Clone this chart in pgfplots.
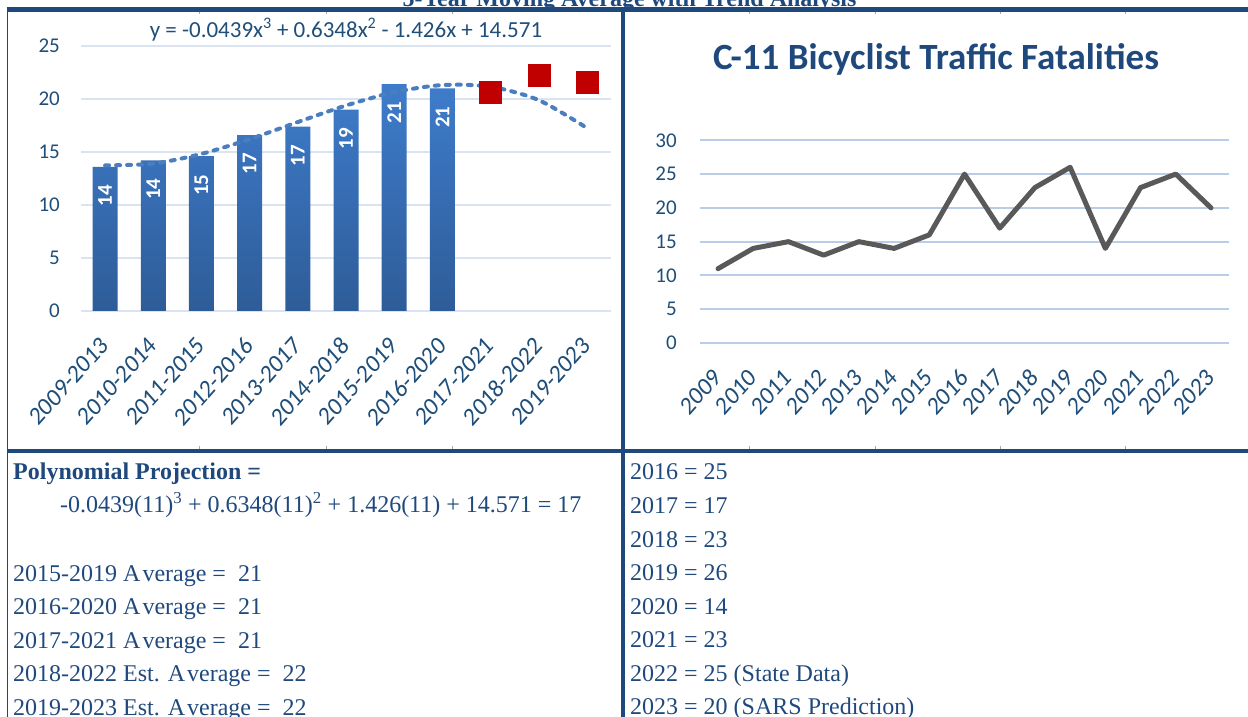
\documentclass[border=0pt]{standalone}
\usepackage{fontspec}
\setmainfont{Liberation Serif}
\newfontfamily\calibri{Carlito}
\usepackage{pgfplots}
\pgfplotsset{compat=1.18}
\definecolor{navy}{HTML}{1F497D}
\definecolor{tickc}{HTML}{1F4E79}
\definecolor{gridA}{HTML}{D9E3F1}
\definecolor{gridB}{HTML}{B9CDE8}
\definecolor{barTop}{HTML}{3E7CCB}
\definecolor{barBot}{HTML}{2E5C98}
\definecolor{trend}{HTML}{4A7EBF}
\definecolor{est}{HTML}{C00000}
\definecolor{lineC}{HTML}{595959}

\begin{document}
\begin{tikzpicture}
\useasboundingbox (0pt,0pt) rectangle (1248pt,717pt);
\clip (0pt,0pt) rectangle (1248pt,717pt);

\pgfplotsset{
  sheet/.style={
    scale only axis, axis line style={draw=none}, major tick length=0pt,
    ymajorgrids, clip=false,
    /pgf/number format/assume math mode=true,
    ticklabel style={font=\calibri\fontsize{21}{24}\selectfont, text=tickc, inner sep=0pt},
    xticklabel style={font=\calibri\fontsize{23}{26}\selectfont,
      xshift=-6pt, yshift=-24pt, yscale=1.12, rotate=45, anchor=north east},
  }
}

% left: 5-year moving average
\begin{axis}[sheet,
  at={(81pt,406pt)}, anchor=south west, width=530pt, height=265pt,
  xmin=-0.5, xmax=10.5, ymin=0, ymax=25,
  ytick={0,5,...,25}, xtick={0,...,10},
  xticklabels={2009-2013,2010-2014,2011-2015,2012-2016,2013-2017,2014-2018,2015-2019,2016-2020,2017-2021,2018-2022,2019-2023},
  grid style={gridA, line width=1.6pt},
  yticklabel style={xshift=-21pt},
]
\addplot[ybar, bar width=25pt, draw=none, top color=barTop, bottom color=barBot]
  coordinates {(0,13.6) (1,14.2) (2,14.6) (3,16.6) (4,17.4) (5,19.0) (6,21.4) (7,21.0)};
\addplot[draw=none, no markers, point meta=explicit symbolic, nodes near coords,
  every node near coord/.append style={rotate=90, anchor=east, inner xsep=18pt, inner ysep=0pt,
    text=white, font=\calibri\fontsize{21}{24}\selectfont\bfseries}]
  coordinates {(0,13.6)[14] (1,14.2)[14] (2,14.6)[15] (3,16.6)[17] (4,17.4)[17] (5,19.0)[19] (6,21.4)[21] (7,21.0)[21]};
\addplot[trend, line width=4pt, dash pattern=on 4pt off 7pt, line cap=round, smooth, no markers]
  coordinates {(0,13.736) (1,13.907) (2,14.821) (3,16.214) (4,17.824) (5,19.385) (6,20.637) (7,21.313) (8,21.153) (9,19.891) (10,17.265)};
\addplot[only marks, mark=square*, mark size=11pt, est]
  coordinates {(8,20.6) (9,22.2) (10,21.6)};
\end{axis}

% right: yearly fatalities
\begin{axis}[sheet,
  at={(700.4pt,374pt)}, anchor=south west, width=528.2pt, height=202.7pt,
  xmin=-0.5, xmax=14.5, ymin=0, ymax=30,
  ytick={0,5,...,30}, xtick={0,...,14},
  xticklabels={2009,2010,2011,2012,2013,2014,2015,2016,2017,2018,2019,2020,2021,2022,2023},
  grid style={gridB, line width=2pt},
  yticklabel style={xshift=-23.5pt},
]
\addplot[lineC, line width=5pt, line join=round, line cap=round, no markers]
  coordinates {(0,11) (1,14) (2,15) (3,13) (4,15) (5,14) (6,16) (7,25) (8,17) (9,23) (10,26) (11,14) (12,23) (13,25) (14,20)};
\end{axis}

\begin{scope}[x=1pt, y=1pt]
% title of the sheet, cut at the top edge
\node[anchor=base, inner sep=0pt, text=navy, font=\fontsize{24}{28}\selectfont\bfseries] at (629.5,710.5) {5-Year Moving Average with Trend Analysis};
\node[anchor=base, inner sep=0pt, text=tickc, font=\calibri\fontsize{23}{26}\selectfont] at (346,679)
  {y = -0.0439x\textsuperscript{3} + 0.6348x\textsuperscript{2} - 1.426x + 14.571};
\node[anchor=base, inner sep=0pt, text=navy, font=\calibri\fontsize{37}{40}\selectfont\bfseries] at (936,647.4)
  {C-11 Bicyclist Traffic Fatalities};

% sheet grid
\foreach \x in {199,326,452,749,875,1000,1125} {
  \draw[gray!70, line width=0.8pt] (\x,705.3) -- (\x,702.5);
  \draw[gray!70, line width=0.8pt] (\x,268) -- (\x,271);
}
\draw[navy, line width=4.4pt] (6.7,707.5) -- (1248,707.5);
\draw[navy, line width=1.6pt] (7.5,709) -- (7.5,0);
\draw[navy, line width=3.4pt] (623,709) -- (623,0);
\draw[navy, line width=4pt] (6.7,266) -- (1248,266);

% notes below the charts
\begin{scope}[every node/.style={anchor=base west, inner sep=0pt, text=navy, font=\fontsize{24}{27}\selectfont}]
\node[font=\fontsize{24}{27}\selectfont\bfseries] at (13,237.5) {Polynomial Projection =};
\node at (60,204) {-0.0439(11)\textsuperscript{3} + 0.6348(11)\textsuperscript{2} + 1.426(11) + 14.571 = 17};
\node at (13,135.5) {2015-2019 A\kern2pt verage = \ 21};
\node at (13,102) {2016-2020 A\kern2pt verage = \ 21};
\node at (13,68.5) {2017-2021 A\kern2pt verage = \ 21};
\node at (13,35) {2018-2022 Est. A\kern2pt verage = \ 22};
\node at (13,1.5) {2019-2023 Est. A\kern2pt verage = \ 22};
\node at (630,237) {2016 = 25};
\node at (630,203) {2017 = 17};
\node at (630,169.5) {2018 = 23};
\node at (630,136) {2019 = 26};
\node at (630,102.5) {2020 = 14};
\node at (630,69) {2021 = 23};
\node at (630,35.5) {2022 = 25 (State Data)};
\node at (630,2) {2023 = 20 (SARS Prediction)};
\end{scope}
\end{scope}
\end{tikzpicture}
\end{document}
